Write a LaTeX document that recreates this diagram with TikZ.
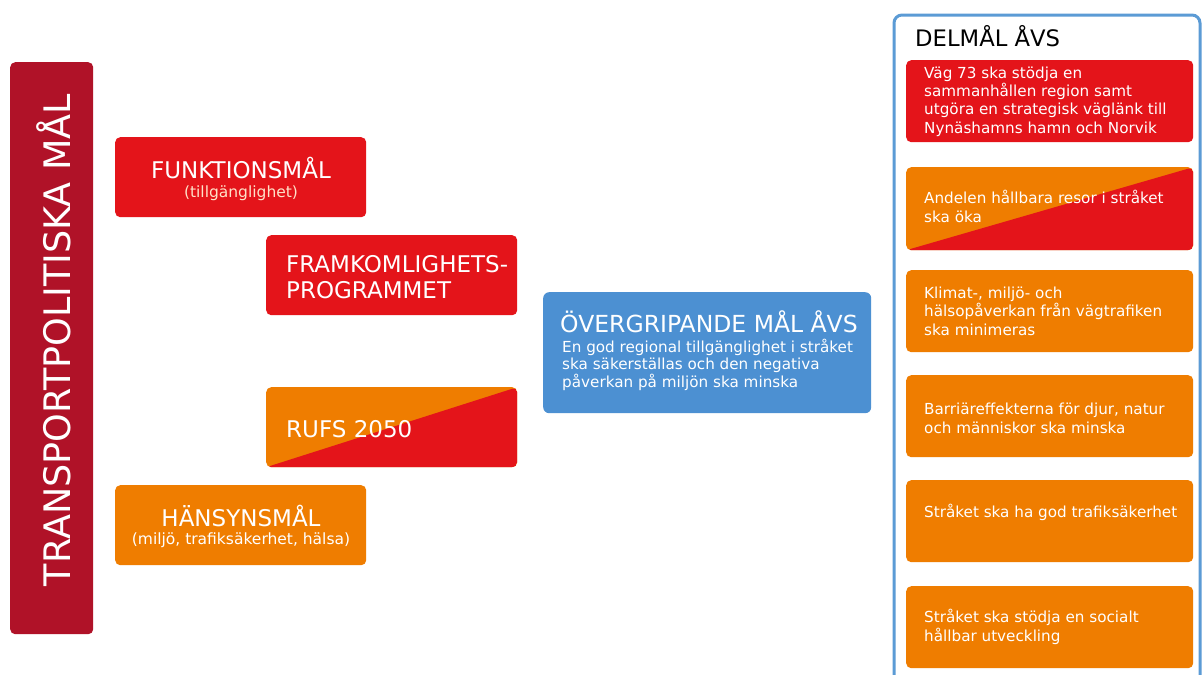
\documentclass[tikz,border=0pt]{standalone}
\usepackage{fontspec}
\setmainfont{DejaVu Sans}
\definecolor{tred}{RGB}{228,20,26}
\definecolor{torange}{RGB}{239,125,0}
\definecolor{tdark}{RGB}{176,18,40}
\definecolor{tblue}{RGB}{76,144,210}
\definecolor{tframe}{RGB}{91,155,213}
\definecolor{tpeach}{RGB}{255,225,200}
\tikzset{
  box/.style={rounded corners=5pt, minimum width=251pt, minimum height=80pt,
    anchor=north west, inner sep=0pt, draw=none},
  goalbox/.style={rounded corners=5pt, minimum width=287pt, minimum height=82pt,
    anchor=north west, inner sep=0pt, draw=none},
  splitfill/.style={fill=torange, path picture={
    \fill[tred] (path picture bounding box.south west)
      -- (path picture bounding box.north east)
      -- (path picture bounding box.south east) -- cycle;}},
  wtxt/.style={text=white, inner sep=0pt},
  bigcap/.style={wtxt, font=\fontsize{23}{26}\selectfont},
  small/.style={wtxt, font=\fontsize{15.5}{18}\selectfont},
  % multi-line texts are placed by the baseline of their last line
  goaltxt/.style={wtxt, anchor=base west, align=left,
    font=\fontsize{15.2}{18.3}\selectfont},
}
\begin{document}
\begin{tikzpicture}[x=1pt,y=-1pt]
\useasboundingbox (0,0) rectangle (1203,675);
\fill[white] (0,0) rectangle (1203,675);

% vertical bar on the left
\node[fill=tdark, rounded corners=5pt, minimum width=83pt, minimum height=572pt,
  anchor=north west, inner sep=0pt] (bar) at (10,62) {};
\node[wtxt, rotate=90, anchor=base, font=\fontsize{36.5}{40}\selectfont]
  (barT) at (70,340) {TRANSPORTPOLITISKA MÅL};

% left column of boxes
\node[box, fill=tred] (funk) at (115,137) {};
\node[bigcap, anchor=base] (funkT) at (241,178) {FUNKTIONSMÅL};
\node[small, anchor=base, text=tpeach] (funkS) at (241,197) {(tillgänglighet)};

\node[box, fill=tred] (fram) at (266,235) {};
\node[bigcap, anchor=base west, align=left, font=\fontsize{23}{26}\selectfont]
  (framT) at (286,298) {FRAMKOMLIGHETS-\\PROGRAMMET};

\node[box, splitfill] (rufs) at (266,387) {};
\node[bigcap, anchor=base west] (rufsT) at (286,437) {RUFS 2050};

\node[box, fill=torange] (hans) at (115,485) {};
\node[bigcap, anchor=base] (hansT) at (241,526) {HÄNSYNSMÅL};
\node[small, anchor=base] (hansS) at (241,544) {(miljö, trafiksäkerhet, hälsa)};

% overall goal
\node[fill=tblue, rounded corners=6pt, minimum width=328pt, minimum height=121pt,
  anchor=north west, inner sep=0pt] (over) at (543,292) {};
\node[bigcap, anchor=base west, font=\fontsize{23.5}{26}\selectfont]
  (overT) at (560,332) {ÖVERGRIPANDE MÅL ÅVS};
\node[goaltxt, font=\fontsize{15.2}{17.5}\selectfont] (overS) at (562,387)
  {En god regional tillgänglighet i stråket\\ska säkerställas och den negativa\\påverkan på miljön ska minska};

% sub-goal panel
\begin{scope}
  \clip (0,0) rectangle (1203,675);
  \draw[tframe, line width=3pt, rounded corners=8pt] (894,15) rectangle (1200,700);
\end{scope}
\node[anchor=base west, inner sep=0pt, font=\fontsize{22.7}{26}\selectfont]
  (delT) at (915,46) {DELMÅL ÅVS};

\node[goalbox, fill=tred] (g1) at (906,60) {};
\node[goaltxt] (g1T) at (924,133)
  {Väg 73 ska stödja en\\sammanhållen region samt\\utgöra en strategisk väglänk till\\Nynäshamns hamn och Norvik};

\node[goalbox, splitfill, minimum height=83pt] (g2) at (906,167) {};
\node[goaltxt] (g2T) at (924,222) {Andelen hållbara resor i stråket\\ska öka};

\node[goalbox, fill=torange] (g3) at (906,270) {};
\node[goaltxt] (g3T) at (924,335)
  {Klimat-, miljö- och\\hälsopåverkan från vägtrafiken\\ska minimeras};

\node[goalbox, fill=torange] (g4) at (906,375) {};
\node[goaltxt] (g4T) at (924,433)
  {Barriäreffekterna för djur, natur\\och människor ska minska};

\node[goalbox, fill=torange] (g5) at (906,480) {};
\node[goaltxt] (g5T) at (924,517) {Stråket ska ha god trafiksäkerhet};

\node[goalbox, fill=torange] (g6) at (906,586) {};
\node[goaltxt] (g6T) at (924,641)
  {Stråket ska stödja en socialt\\hållbar utveckling};
\end{tikzpicture}
\end{document}
